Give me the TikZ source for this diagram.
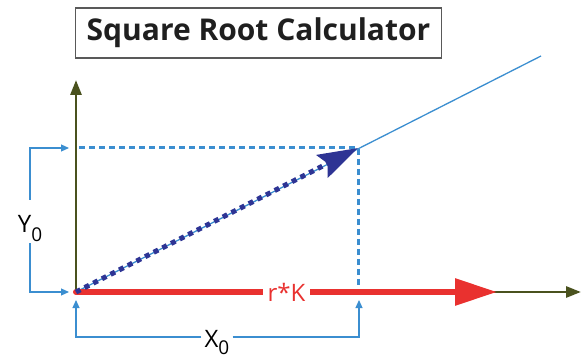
\documentclass[tikz,border=0pt]{standalone}
\usepackage{fontspec}
\setmainfont{Open Sans}
\usepackage{xcolor}
\usetikzlibrary{arrows.meta,positioning}

\definecolor{axisgreen}{RGB}{74,82,30}
\definecolor{rkred}{RGB}{233,49,47}
\definecolor{vecblue}{RGB}{46,52,148}
\definecolor{guideblue}{RGB}{59,142,208}

\begin{document}
\begin{tikzpicture}[
    x=1pt, y=-1pt,
    titlebox/.style={draw=black!65, line width=1.3pt, text=black!88, minimum width=366pt, minimum height=50pt, inner sep=0pt, font=\fontsize{30}{30}\selectfont\bfseries},
    axis/.style={draw=axisgreen, line width=2.8pt, -{Triangle[length=15pt, width=11pt]}},
    guide/.style={draw=guideblue, line width=3pt, dash pattern=on 6pt off 4pt},
    bracket/.style={draw=guideblue, line width=1.2pt, -{Triangle[length=8pt, width=7pt]}},
    lbl/.style={font=\fontsize{24}{24}\selectfont, inner sep=0pt, anchor=base}
]
\useasboundingbox (0,0) rectangle (581,358);

\node[titlebox] (title) at (258.5,33) {Square Root Calculator};

\coordinate (O) at (76,292);
\coordinate (P) at (358,148);
\coordinate (Py) at (79,148);
\coordinate (Px) at (358,292);
\coordinate (ytip) at (76,80);
\coordinate (xtip) at (581,292);
\coordinate (rtip) at (497,292);
\coordinate (ray) at (541,56);

% guides
\draw[guide] (Py) -- (P) -- (Px);
\draw[guideblue, line width=1.3pt] (O) -- (ray);

% axes
\draw[axis] (O) -- (ytip);
\draw[axis] (O) -- (xtip);

% r*K
\draw[rkred, line width=6pt, line cap=round, -{Triangle[length=42pt, width=26pt]}] (O) -- (rtip)
    node[midway, fill=white, text=rkred, font=\fontsize{24}{24}\selectfont, inner xsep=5pt, inner ysep=0pt] (rk) {r*K};

% vector
\draw[vecblue, line width=5pt, dash pattern=on 5pt off 4.7pt, -{Stealth[length=40pt, width=25pt, inset=6pt]}] (O) -- (P);

% Y0 bracket
\node[lbl, text height=33pt, text depth=10pt] (ylbl) at (30,233) {Y\raisebox{-9pt}{\fontsize{19}{19}\selectfont 0}};
\coordinate (yarrT) at (69,148);
\coordinate (yarrB) at (69,292);
\draw[bracket] (ylbl.north) |- (yarrT);
\draw[bracket] (ylbl.south) |- (yarrB);

% X0 bracket
\node[lbl, text height=20pt, text depth=0pt, inner xsep=3pt] (xlbl) at (217,347) {X\raisebox{-7.5pt}{\fontsize{19}{19}\selectfont 0}};
\coordinate (xarrL) at (76,300);
\coordinate (xarrR) at (359,300);
\draw[bracket] (xlbl.west) -| (xarrL);
\draw[bracket] (xlbl.east) -| (xarrR);
\end{tikzpicture}
\end{document}
